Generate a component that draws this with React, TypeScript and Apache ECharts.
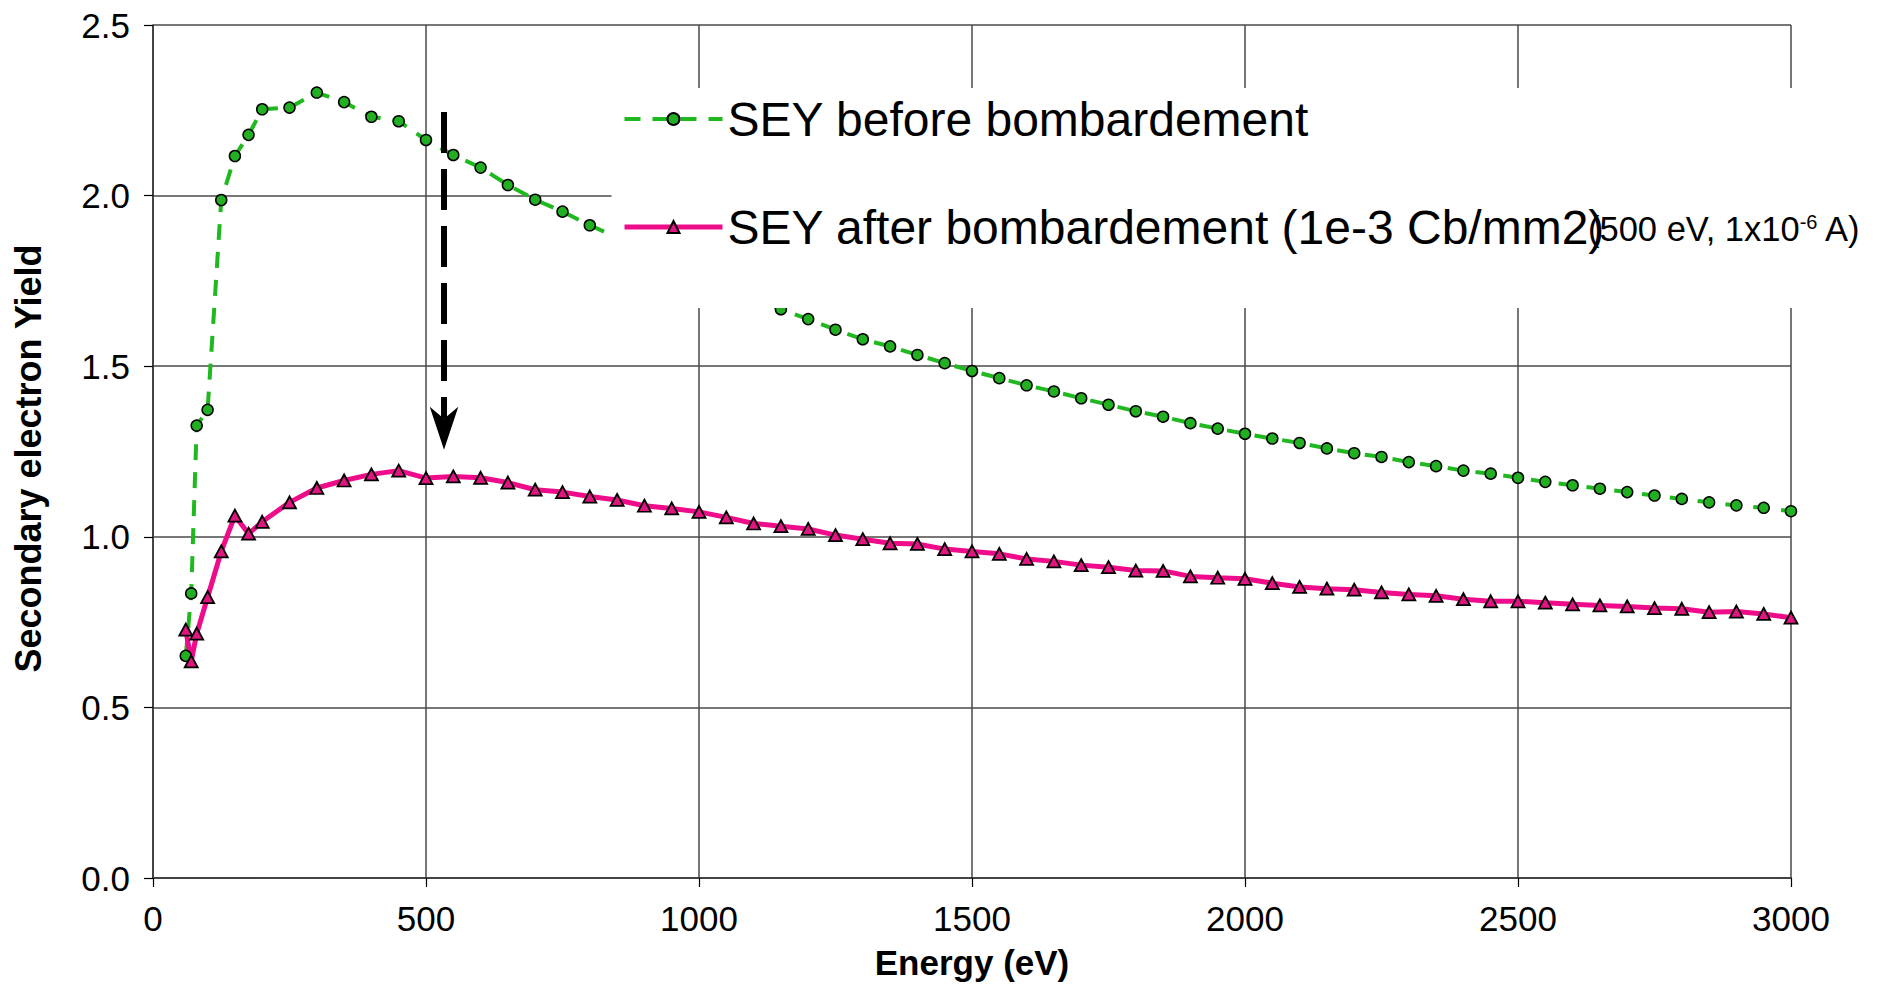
import React, { useEffect, useRef } from "react";
import * as echarts from "echarts";

// Primary electron energy (eV) at which the yield was measured
const ENERGY_EV = [
  60, 70, 80, 100, 125, 150, 175, 200, 250, 300, 350, 400, 450, 500, 550, 600,
  650, 700, 750, 800, 850, 900, 950, 1000, 1050, 1100, 1150, 1200, 1250, 1300,
  1350, 1400, 1450, 1500, 1550, 1600, 1650, 1700, 1750, 1800, 1850, 1900, 1950,
  2000, 2050, 2100, 2150, 2200, 2250, 2300, 2350, 2400, 2450, 2500, 2550, 2600,
  2650, 2700, 2750, 2800, 2850, 2900, 2950, 3000,
];

// Yield before bombardment (points under the legend box are not shown)
const SEY_BEFORE: (number | null)[] = [
  0.651, 0.834, 1.326, 1.372, 1.987, 2.116, 2.178, 2.253, 2.258, 2.302, 2.274,
  2.231, 2.218, 2.163, 2.119, 2.082, 2.031, 1.988, 1.953, 1.913,
  null, null, null, null, null, null,
  1.667, 1.638, 1.607, 1.579, 1.558, 1.533, 1.509, 1.486, 1.465, 1.444, 1.426,
  1.406, 1.387, 1.368, 1.352, 1.333, 1.317, 1.302, 1.288, 1.275, 1.259, 1.245,
  1.234, 1.219, 1.207, 1.194, 1.185, 1.173, 1.161, 1.151, 1.141, 1.131, 1.121,
  1.111, 1.101, 1.092, 1.085, 1.075,
];

// Yield after bombardment with 1e-3 Cb/mm2
const SEY_AFTER = [
  0.728, 0.635, 0.716, 0.823, 0.957, 1.062, 1.009, 1.044, 1.101, 1.143, 1.165,
  1.183, 1.194, 1.172, 1.177, 1.173, 1.159, 1.138, 1.131, 1.118,
  1.108, 1.091, 1.083, 1.073, 1.057, 1.039, 1.031, 1.023, 1.005, 0.993, 0.981,
  0.979, 0.964, 0.957, 0.95, 0.935, 0.928, 0.917, 0.911, 0.901, 0.9,
  0.884, 0.88, 0.877, 0.864, 0.853, 0.848, 0.845, 0.837, 0.831, 0.827, 0.817,
  0.811, 0.811, 0.807, 0.802, 0.799, 0.796, 0.791, 0.789, 0.779, 0.781, 0.774,
  0.763,
];

const SERIES_NAMES = [
  "SEY before bombardement",
  "SEY after bombardement (1e-3 Cb/mm2)",
];

// Arrow from the "before" curve down to the "after" curve
const ARROW_EV = 533;
const ARROW_FROM = 2.245;
const ARROW_TO = 1.255;

const FONT = "'Liberation Sans', Arial, Helvetica, sans-serif";
const GREEN = "#1fb81f";
const GREEN_FILL = "#22b022";
const PINK = "#ee0c8a";
const PINK_FILL = "#de1680";

export default function App() {
  const ref = useRef<HTMLDivElement>(null);

  useEffect(() => {
    const el = ref.current;
    if (!el) return;
    const chart = echarts.init(el, null, { renderer: "svg" });

    const axisCommon = {
      axisLine: { show: true, onZero: false, lineStyle: { color: "#333", width: 1.5 } },
      axisTick: { show: true, length: 9, lineStyle: { color: "#000", width: 1.2 } },
      splitLine: { show: true, lineStyle: { color: "#4a4a4a", width: 1.5 } },
    };

    chart.setOption({
      animation: false,
      backgroundColor: "#fff",
      textStyle: { fontFamily: FONT },
      grid: { left: 153, top: 25, width: 1638, height: 853, containLabel: false },
      xAxis: {
        type: "value",
        min: 0,
        max: 3000,
        interval: 500,
        name: "Energy (eV)",
        nameLocation: "middle",
        nameGap: 67,
        nameTextStyle: { fontSize: 35, fontWeight: "bold", color: "#000", fontFamily: FONT },
        ...axisCommon,
        axisLabel: {
          fontSize: 35,
          color: "#000",
          margin: 23,
          fontFamily: FONT,
          formatter: (v: number) => String(v),
        },
      },
      yAxis: {
        type: "value",
        min: 0,
        max: 2.5,
        interval: 0.5,
        name: "Secondary electron Yield",
        nameLocation: "middle",
        nameGap: 107,
        nameTextStyle: {
          fontSize: 36,
          fontWeight: "bold",
          color: "#000",
          fontFamily: FONT,
          padding: [0, 14, 0, 0],
        },
        ...axisCommon,
        axisLabel: {
          fontSize: 35,
          color: "#000",
          margin: 23,
          fontFamily: FONT,
          formatter: (v: number) => v.toFixed(1),
        },
      },
      legend: {
        orient: "vertical",
        left: 622,
        top: 95,
        padding: 0,
        itemGap: 60,
        itemWidth: 98,
        itemHeight: 15,
        selectedMode: false,
        z: 4,
        data: SERIES_NAMES,
        textStyle: { fontSize: 48, lineHeight: 48, color: "#000", fontFamily: FONT },
        lineStyle: { width: "inherit", type: "inherit" },
      },
      series: [
        {
          name: SERIES_NAMES[0],
          type: "line",
          data: ENERGY_EV.map((e, i) => [e, SEY_BEFORE[i]]),
          connectNulls: true,
          showAllSymbol: true,
          symbol: "circle",
          symbolSize: 11,
          lineStyle: { color: GREEN, width: 4, type: [16, 12] },
          itemStyle: { color: GREEN_FILL, borderColor: "#000", borderWidth: 1.5 },
          emphasis: { disabled: true },
          z: 2,
        },
        {
          name: SERIES_NAMES[1],
          type: "line",
          data: ENERGY_EV.map((e, i) => [e, SEY_AFTER[i]]),
          showAllSymbol: true,
          symbol: "triangle",
          symbolSize: [13, 12],
          lineStyle: { color: PINK, width: 5 },
          itemStyle: { color: PINK_FILL, borderColor: "#000", borderWidth: 1.8 },
          emphasis: { disabled: true },
          z: 2,
        },
      ],
    });

    const top = chart.convertToPixel({ gridIndex: 0 }, [ARROW_EV, ARROW_FROM]) as number[];
    const tip = chart.convertToPixel({ gridIndex: 0 }, [ARROW_EV, ARROW_TO]) as number[];
    const headLen = 43;
    const headHalf = 14.3;
    const notch = 31;

    chart.setOption({
      graphic: [
        {
          type: "rect",
          z: 3,
          silent: true,
          shape: { x: 611.5, y: 88, width: 1184, height: 220 },
          style: { fill: "#fff" },
        },
        {
          type: "text",
          z: 5,
          silent: true,
          x: 1588,
          y: 229,
          style: {
            text: "{n|(500 eV, 1x10}{s|-6}{n| A)}",
            align: "left",
            verticalAlign: "middle",
            rich: {
              n: { fontSize: 34.5, fontFamily: FONT, fill: "#000" },
              s: { fontSize: 20, fontFamily: FONT, fill: "#000", verticalAlign: "top" },
            },
          },
        },
        {
          type: "line",
          z: 5,
          silent: true,
          shape: { x1: top[0], y1: top[1], x2: tip[0], y2: tip[1] - notch },
          style: { stroke: "#000", lineWidth: 6, lineDash: [41, 16] },
        },
        {
          type: "polygon",
          z: 5,
          silent: true,
          shape: {
            points: [
              [tip[0], tip[1]],
              [tip[0] + headHalf, tip[1] - headLen],
              [tip[0], tip[1] - notch],
              [tip[0] - headHalf, tip[1] - headLen],
            ],
          },
          style: { fill: "#000" },
        },
      ],
    });

    return () => chart.dispose();
  }, []);

  return (
    <div
      ref={ref}
      style={{ position: "fixed", left: 0, top: 0, width: 1884, height: 987, background: "#fff" }}
    />
  );
}
